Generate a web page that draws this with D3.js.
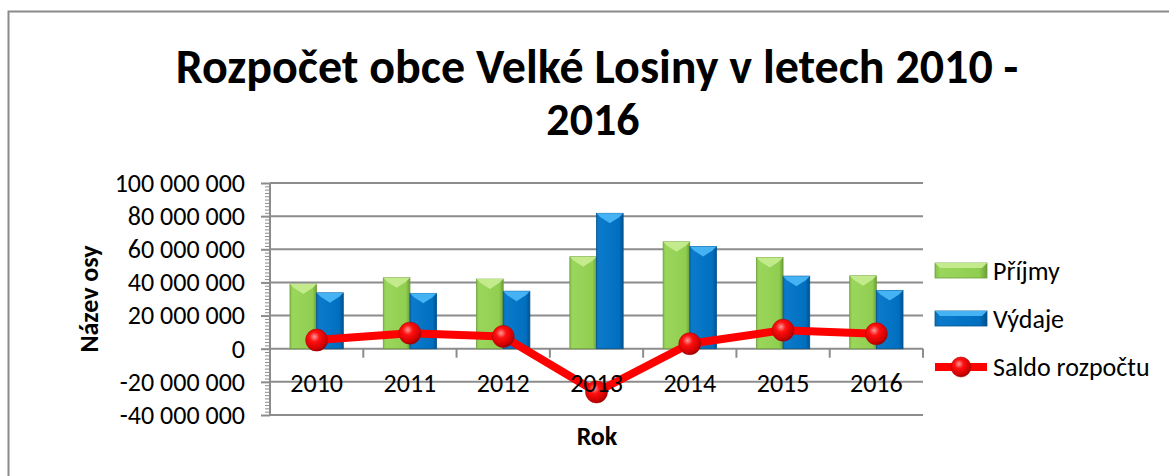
<!DOCTYPE html>
<html>
<head>
<meta charset="utf-8">
<script src="https://cdn.jsdelivr.net/npm/d3@7"></script>
<style>
  body { margin: 0; background: #fff; }
  text { font-family: Carlito, "Open Sans", sans-serif; fill: #000; }
</style>
</head>
<body>
<svg id="chart" width="1169" height="476"></svg>
<script>
// data
const years = ["2010", "2011", "2012", "2013", "2014", "2015", "2016"];
const prijmy = [39.0e6, 42.8e6, 42.0e6, 55.5e6, 64.5e6, 55.1e6, 44.0e6];
const vydaje = [33.7e6, 33.4e6, 34.7e6, 81.7e6, 61.7e6, 43.8e6, 35.2e6];
const saldo = [5.2e6, 9.4e6, 7.4e6, -26.1e6, 3.0e6, 11.2e6, 9.0e6];
const yTicks = [-40e6, -20e6, 0, 20e6, 40e6, 60e6, 80e6, 100e6];
const seriesNames = ["Příjmy", "Výdaje", "Saldo rozpočtu"];

const svg = d3.select("#chart");
const pLeft = 270, pRight = 923, pTop = 183, pBottom = 415;
const fs = 26;

const x = d3.scaleBand().domain(years).range([pLeft, pRight]).padding(0);
const x1 = d3.scaleBand().domain(["p", "v"]).range([0, x.bandwidth()])
    .paddingInner(0).paddingOuter(0.75);
const y = d3.scaleLinear().domain([-40e6, 100e6]).range([pBottom, pTop]);

const loc = d3.formatLocale({ thousands: " ", grouping: [3], decimal: ",", currency: ["", ""], minus: "-" });
const fmt = loc.format(",d");

// gradients
const defs = svg.append("defs");
function barGrad(id, c0, c1, c2, c3) {
    let g = defs.append("linearGradient").attr("id", id)
        .attr("x1", "0%").attr("x2", "100%").attr("y1", "0%").attr("y2", "0%");
    g.append("stop").attr("offset", "0%").attr("stop-color", c0);
    g.append("stop").attr("offset", "10%").attr("stop-color", c1);
    g.append("stop").attr("offset", "85%").attr("stop-color", c2);
    g.append("stop").attr("offset", "100%").attr("stop-color", c3);
}
barGrad("gGreen", "#86c24a", "#9ad65c", "#90ce50", "#6e9f3a");
barGrad("gBlue", "#0a6fb8", "#0b7acb", "#006fbf", "#00508c");
let rg = defs.append("radialGradient").attr("id", "gBall")
    .attr("cx", "40%").attr("cy", "35%").attr("r", "65%");
rg.append("stop").attr("offset", "0%").attr("stop-color", "#ff9a9a");
rg.append("stop").attr("offset", "35%").attr("stop-color", "#ff1010");
rg.append("stop").attr("offset", "85%").attr("stop-color", "#d00000");
rg.append("stop").attr("offset", "100%").attr("stop-color", "#9a0000");

// outer frame
svg.append("path").attr("d", "M8.5,476 V11.5 H1169")
    .attr("fill", "none").attr("stroke", "#8a8a8a").attr("stroke-width", 2);

// title
svg.append("text").attr("x", 597).attr("y", 83).attr("text-anchor", "middle")
    .attr("font-size", 48).attr("font-weight", "bold")
    .text("Rozpočet obce Velké Losiny v letech 2010 -");
svg.append("text").attr("x", 593).attr("y", 135).attr("text-anchor", "middle")
    .attr("font-size", 46).attr("font-weight", "bold").text("2016");

// gridlines
svg.append("g").selectAll("line").data(yTicks).join("line")
    .attr("x1", pLeft).attr("x2", pRight)
    .attr("y1", d => y(d)).attr("y2", d => y(d))
    .attr("stroke", "#8c8c8c").attr("stroke-width", 2);

// y axis, minor then major ticks
const gMinor = svg.append("g").attr("transform", `translate(${pLeft},0)`)
    .call(d3.axisLeft(y).tickValues(d3.range(-40e6, 100e6 + 1, 2e6)).tickSize(5).tickFormat(""));
gMinor.select(".domain").remove();
gMinor.selectAll("line").attr("stroke", "#8c8c8c").attr("stroke-width", 1);

const gY = svg.append("g").attr("transform", `translate(${pLeft},0)`)
    .call(d3.axisLeft(y).tickValues(yTicks).tickSize(9).tickPadding(16).tickFormat(fmt));
gY.select(".domain").attr("d", `M0,${pTop}V${pBottom}`).attr("stroke", "#8c8c8c").attr("stroke-width", 2);
gY.selectAll(".tick line").attr("stroke", "#8c8c8c").attr("stroke-width", 2);
gY.selectAll(".tick text").attr("font-size", fs).attr("font-family", "Carlito, 'Open Sans', sans-serif")
    .attr("fill", "#000").attr("dy", "0.32em");

// category ticks under zero line
svg.append("g").selectAll("line").data(years).join("line")
    .attr("x1", d => x(d) + x.bandwidth()).attr("x2", d => x(d) + x.bandwidth())
    .attr("y1", y(0)).attr("y2", y(0) + 9)
    .attr("stroke", "#8c8c8c").attr("stroke-width", 2);

// bars
const bw = x1.bandwidth();
function drawBars(vals, key, grad, cap, edge) {
    const g = svg.append("g");
    const rows = years.map((d, i) => ({ year: d, v: vals[i] }));
    g.selectAll("rect").data(rows).join("rect")
        .attr("x", d => x(d.year) + x1(key))
        .attr("y", d => y(d.v))
        .attr("width", bw)
        .attr("height", d => y(0) - y(d.v))
        .attr("fill", `url(#${grad})`)
        .attr("stroke", edge).attr("stroke-width", 0.8);
    g.selectAll("polygon").data(rows).join("polygon")
        .attr("points", d => {
            const x0 = x(d.year) + x1(key), t = y(d.v);
            return `${x0},${t} ${x0 + bw},${t} ${x0 + bw - 4},${t + 4} ${x0 + bw / 2},${t + 10} ${x0 + 4},${t + 4}`;
        })
        .attr("fill", cap);
}
drawBars(prijmy, "p", "gGreen", "#c3eb8c", "#6f9e3c");
drawBars(vydaje, "v", "gBlue", "#45b2f3", "#00548f");

// saldo line
const line = d3.line().x((d, i) => x(years[i]) + x.bandwidth() / 2).y(d => y(d));
svg.append("path").datum(saldo).attr("d", line)
    .attr("fill", "none").attr("stroke", "#ff0000").attr("stroke-width", 8)
    .attr("stroke-linejoin", "round");
svg.append("g").selectAll("circle").data(saldo).join("circle")
    .attr("cx", (d, i) => x(years[i]) + x.bandwidth() / 2)
    .attr("cy", d => y(d)).attr("r", 11)
    .attr("fill", "url(#gBall)").attr("stroke", "#b00000").attr("stroke-width", 0.6);

// category labels
svg.append("g").selectAll("text").data(years).join("text")
    .attr("x", d => x(d) + x.bandwidth() / 2).attr("y", 392)
    .attr("text-anchor", "middle").attr("font-size", 26).text(d => d);

// axis titles
svg.append("text").attr("x", 597).attr("y", 445).attr("text-anchor", "middle")
    .attr("font-size", fs).attr("font-weight", "bold").text("Rok");
svg.append("text").attr("transform", "translate(98,299) rotate(-90)")
    .attr("text-anchor", "middle").attr("font-size", fs).attr("font-weight", "bold")
    .text("Název osy");

// legend
const leg = svg.append("g");
const legY = [271, 319, 367];
[["gGreen", "#c3eb8c", "#6f9e3c"], ["gBlue", "#45b2f3", "#00548f"]].forEach((s, i) => {
    leg.append("rect").attr("x", 935).attr("y", legY[i] - 8).attr("width", 52).attr("height", 15)
        .attr("fill", `url(#${s[0]})`).attr("stroke", s[2]).attr("stroke-width", 0.8);
    leg.append("polygon")
        .attr("points", `935,${legY[i] - 8} 987,${legY[i] - 8} 982,${legY[i] - 3} 940,${legY[i] - 3}`)
        .attr("fill", s[1]);
});
leg.append("line").attr("x1", 935).attr("x2", 987).attr("y1", legY[2]).attr("y2", legY[2])
    .attr("stroke", "#ff0000").attr("stroke-width", 8);
leg.append("circle").attr("cx", 961).attr("cy", legY[2]).attr("r", 10)
    .attr("fill", "url(#gBall)").attr("stroke", "#b00000").attr("stroke-width", 0.6);
leg.selectAll("text").data(seriesNames).join("text")
    .attr("x", 993).attr("y", (d, i) => legY[i] + 9)
    .attr("font-size", fs).text(d => d);
</script>
</body>
</html>
